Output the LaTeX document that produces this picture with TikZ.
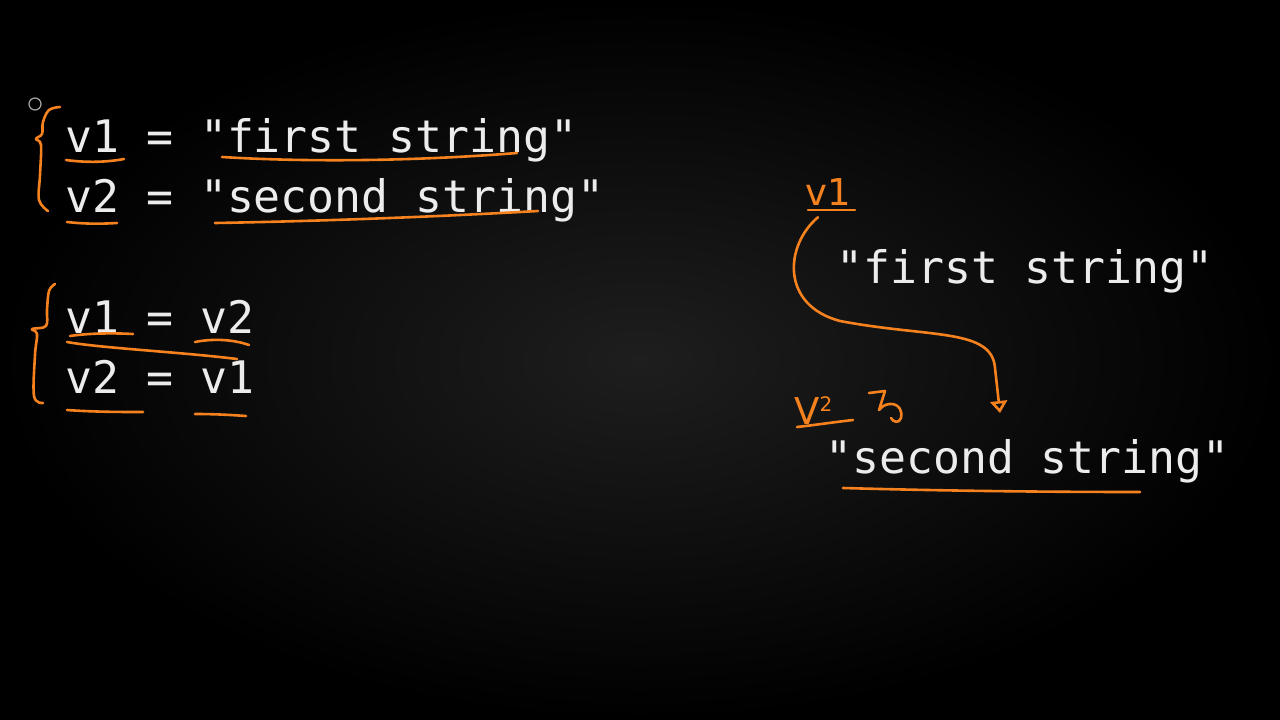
\documentclass[tikz,border=0pt]{standalone}
\usepackage{fontspec}
\setmonofont{DejaVu Sans Mono}
\newfontfamily\handfont{DejaVu Sans}
\usetikzlibrary{arrows.meta}
\definecolor{pen}{RGB}{245,130,30}
\definecolor{chalk}{RGB}{236,236,236}
\definecolor{bgmid}{RGB}{30,30,30}

\tikzset{
  code/.style={text=chalk, font=\ttfamily\fontsize{44.8}{50}\selectfont, inner sep=0pt, anchor=base west},
  handtext/.style={text=pen, font=\handfont\fontsize{37}{37}\selectfont, inner sep=0pt, anchor=base west},
  hand/.style={draw=pen, line width=2.6pt, line cap=round, line join=round}
}

\begin{document}
\begin{tikzpicture}[x=1pt,y=-1pt]
        \shade[inner color=bgmid, outer color=black] (0,0) rectangle (1280,720);
        \useasboundingbox (0,0) rectangle (1280,720);

        \node[code] (A) at (65,152) {v1 = "first string"};
        \node[code] (B) at (65,212) {v2 = "second string"};
        \node[code] (C) at (65,333) {v1 = v2};
        \node[code] (D) at (65,393) {v2 = v1};
        \node[code] (FS) at (836,283) {"first string"};
        \node[code] (SS) at (825,473) {"second string"};

        \node[handtext] (V1) at (805,205) {v1};
        \node[handtext] (V2) at (794,424) {V\raisebox{13pt}{\fontsize{20}{20}\selectfont 2}};
        \coordinate (tip) at (1000,413);

        % pen cursor
        \draw[gray!70, line width=1.2pt] (35,104) circle (6);

        % braces
        \draw[hand] plot[smooth, tension=0.6] coordinates {(60,107) (49,110) (43,122) (42,134) (36,139) (41,145) (40,175) (39,200) (48,211)};
        \draw[hand] plot[smooth, tension=0.6] coordinates {(55,284) (49,291) (47,310) (46,326) (32,329) (37,334) (35,355) (34,396) (43,403)};

        % underlines, top group
        \draw[hand] (66,160) .. controls (88,163) and (108,162) .. (124,159);
        \draw[hand] (222,157) .. controls (320,163) and (430,160) .. (517,153);
        \draw[hand] (67,222) .. controls (85,224) and (100,224) .. (117,223);
        \draw[hand] (215,223) .. controls (330,221) and (450,216) .. (538,211);

        % underlines, swap group
        \draw[hand] (70,336) .. controls (90,333) and (115,333) .. (133,334);
        \draw[hand] (67,342) .. controls (100,348) and (180,352) .. (237,359);
        \draw[hand] (195,342) .. controls (215,338) and (235,340) .. (249,345);
        \draw[hand] (67,410) .. controls (95,412) and (120,412) .. (143,412);
        \draw[hand] (195,414) .. controls (215,414) and (232,415) .. (246,416);

        % right side
        \draw[hand] (808,210) -- (855,210);
        \draw[hand] (797,427) .. controls (815,425) and (835,422) .. (853,420);
        \draw[hand] (869,393) -- (885,391) -- (879,410) .. controls (886,400) and (904,402) .. (901,418) .. controls (899,424) and (893,422) .. (891,418);
        \draw[hand, -{Triangle[open, length=12pt, width=17pt]}] ([shift={(13,12)}]V1.south west)
            .. controls (785,245) and (780,305) .. (840,321)
            .. controls (930,338) and (992,328) .. (995,368) -- (tip);
        \draw[hand] (843,488) .. controls (950,491) and (1050,492) .. (1140,492);
\end{tikzpicture}
\end{document}
